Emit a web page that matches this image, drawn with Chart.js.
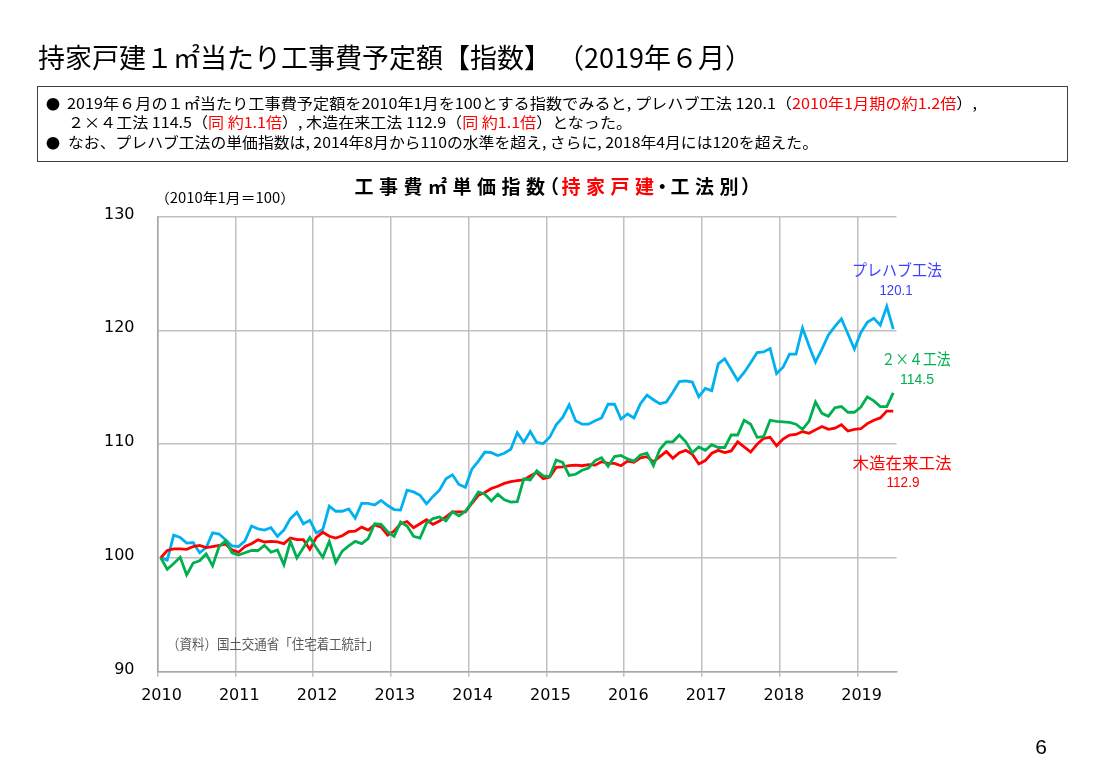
<!DOCTYPE html>
<html lang="ja">
<head>
<meta charset="utf-8">
<title>工事費㎡単価指数</title>
<script src="https://cdn.jsdelivr.net/npm/chart.js@4.4.1/dist/chart.umd.min.js"></script>
<style>
  body { margin: 0; background: #fff; }
  #page { position: relative; width: 1103px; height: 783px; overflow: hidden; font-family: "Noto Sans CJK JP", sans-serif; color: #000; }
  #chart { position: absolute; left: 0; top: 0; }
  .fit { position: absolute; white-space: nowrap; transform-origin: 0 50%; }
  #mainTitle { left: 38px; top: 39px; font-size: 27px; line-height: 36px; }
  #box { position: absolute; left: 37px; top: 86px; width: 1029px; height: 74px; border: 1px solid #404040; }
  .line { font-size: 15px; line-height: 20px; }
  .bullet { position: absolute; left: 8px; font-size: 14px; line-height: 20px; }
  .red { color: #ff0000; }
</style>
</head>
<body>
<div id="page">
  <canvas id="chart" width="1103" height="783"></canvas>
  <div id="mainTitle" class="fit" data-w="714">持家戸建１㎡当たり工事費予定額【指数】 （2019年６月）</div>
  <div id="box">
    <div class="bullet" style="top:6px">●</div>
    <div class="fit line" style="left:29px; top:6px" data-w="910">2019年６月の１㎡当たり工事費予定額を2010年1月を100とする指数でみると, プレハブ工法 120.1（<span class="red">2010年1月期の約1.2倍</span>）,</div>
    <div class="fit line" style="left:30px; top:25px" data-w="564">２×４工法 114.5（<span class="red">同 約1.1倍</span>）, 木造在来工法 112.9（<span class="red">同 約1.1倍</span>）となった。</div>
    <div class="bullet" style="top:45px">●</div>
    <div class="fit line" style="left:30px; top:45px" data-w="750">なお、プレハブ工法の単価指数は, 2014年8月から110の水準を超え, さらに, 2018年4月には120を超えた。</div>
  </div>
</div>
<script>
// monthly index, 2010/01 = 100 (Jan 2010 .. Jun 2019)
const prefab = [
  100.0, 99.8, 102.0, 101.8, 101.3, 101.35, 100.45, 100.9, 102.2, 102.1, 101.6, 101.05,
  101.0, 101.5, 102.8, 102.55, 102.45, 102.65, 101.9, 102.45, 103.45, 104.0, 103.0, 103.3,
  102.2, 102.5, 104.55, 104.1, 104.1, 104.3, 103.5, 104.8, 104.8, 104.65, 105.05, 104.6,
  104.25, 104.2, 105.95, 105.8, 105.5, 104.75, 105.4, 105.95, 106.95, 107.3, 106.45, 106.2,
  107.8, 108.5, 109.3, 109.25, 109.0, 109.2, 109.55, 111.0, 110.15, 111.1, 110.15, 110.05,
  110.6, 111.7, 112.35, 113.45, 112.05, 111.75, 111.75, 112.05, 112.3, 113.5, 113.5, 112.2,
  112.65, 112.3, 113.55, 114.3, 113.9, 113.55, 113.7, 114.55, 115.5, 115.55, 115.45, 114.15,
  114.9, 114.7, 117.05, 117.5, 116.55, 115.6, 116.3, 117.15, 118.05, 118.1, 118.4, 116.2,
  116.75, 117.9, 117.9, 120.2, 118.65, 117.2, 118.35, 119.6, 120.35, 121.0, 119.7, 118.35,
  119.8, 120.7, 121.05, 120.45, 122.1, 120.1
];
const twoByFour = [
  100.0, 99.0, 99.5, 100.05, 98.5, 99.55, 99.75, 100.35, 99.3, 101.0, 101.5, 100.45,
  100.25, 100.45, 100.65, 100.65, 101.1, 100.5, 100.7, 99.4, 101.45, 100.0, 100.9, 101.8,
  100.9, 100.05, 101.45, 99.6, 100.6, 101.05, 101.45, 101.25, 101.7, 103.0, 102.95, 102.3,
  101.9, 103.15, 102.8, 101.9, 101.75, 103.05, 103.45, 103.6, 103.25, 104.05, 103.7, 104.1,
  104.9, 105.8, 105.6, 105.0, 105.6, 105.1, 104.9, 104.95, 106.95, 106.85, 107.65, 107.2,
  107.15, 108.6, 108.4, 107.25, 107.35, 107.7, 107.9, 108.55, 108.8, 108.05, 108.9, 109.0,
  108.7, 108.5, 109.05, 109.2, 108.1, 109.55, 110.2, 110.2, 110.8, 110.2, 109.25, 109.75,
  109.45, 109.95, 109.7, 109.7, 110.8, 110.8, 112.1, 111.75, 110.6, 110.65, 112.1, 112.0,
  111.95, 111.9, 111.75, 111.3, 112.0, 113.7, 112.7, 112.45, 113.2, 113.3, 112.8, 112.8,
  113.25, 114.15, 113.8, 113.3, 113.3, 114.5
];
const wooden = [
  100.0, 100.65, 100.8, 100.8, 100.75, 101.0, 101.1, 100.9, 101.0, 101.1, 101.2, 100.7,
  100.5, 101.0, 101.25, 101.6, 101.4, 101.45, 101.4, 101.25, 101.75, 101.6, 101.6, 100.75,
  101.8, 102.25, 101.9, 101.75, 101.95, 102.3, 102.35, 102.7, 102.45, 102.9, 102.7, 102.0,
  102.35, 103.0, 103.2, 102.65, 103.0, 103.35, 102.95, 103.25, 103.6, 104.05, 104.05, 104.05,
  104.8, 105.5, 105.75, 106.1, 106.3, 106.55, 106.7, 106.8, 106.85, 107.2, 107.5, 106.95,
  107.1, 107.95, 108.0, 108.1, 108.15, 108.1, 108.2, 108.15, 108.45, 108.3, 108.3, 108.1,
  108.5, 108.4, 108.8, 108.9, 108.45, 108.9, 109.35, 108.75, 109.25, 109.45, 109.1, 108.25,
  108.55, 109.2, 109.45, 109.25, 109.4, 110.2, 109.75, 109.3, 110.0, 110.5, 110.6, 109.85,
  110.45, 110.8, 110.85, 111.1, 110.95, 111.25, 111.55, 111.3, 111.4, 111.7, 111.15, 111.3,
  111.35, 111.8, 112.1, 112.3, 112.9, 112.9
];
const yearTicks = ['2010', '2011', '2012', '2013', '2014', '2015', '2016', '2017', '2018', '2019'];
const yTicks = [90, 100, 110, 120, 130];
const monthCount = 114;

const titleParts = [['工事費㎡単価指数', '#000'], ['（', '#000'], ['持家戸建', '#ff0000'], ['・工法別）', '#000']];

// points sit in the middle of each month slot
const toPoints = arr => arr.map((v, i) => ({ x: i + 0.5, y: v }));

function fitText(ctx, text, x, y, w, font, color, align) {
  ctx.save();
  ctx.font = font;
  ctx.fillStyle = color;
  ctx.textBaseline = 'middle';
  ctx.textAlign = align || 'center';
  const k = w ? w / ctx.measureText(text).width : 1;
  ctx.translate(x, y);
  ctx.scale(k, 1);
  ctx.fillText(text, 0, 0);
  ctx.restore();
}

function drawTitle(ctx) {
  const fs = 19, step = 24.5, narrow = 11;
  const chars = [];
  titleParts.forEach(([t, c]) => { for (const ch of t) chars.push([ch, c]); });
  const adv = ch => '（）・'.includes(ch) ? narrow : step;
  const total = chars.reduce((s, [ch]) => s + adv(ch), 0);
  let x = 552 - total / 2;
  ctx.save();
  ctx.font = `bold ${fs}px "Noto Sans CJK JP"`;
  ctx.textAlign = 'center';
  ctx.textBaseline = 'middle';
  chars.forEach(([ch, c]) => {
    const shift = ch === '（' ? -0.2 * fs : ch === '）' ? 0.2 * fs : 0;
    ctx.fillStyle = c;
    ctx.fillText(ch, x + adv(ch) / 2 + shift, 187);
    x += adv(ch);
  });
  ctx.restore();
}

const notesPlugin = {
  id: 'notes',
  afterDraw(chart) {
    const ctx = chart.ctx;
    const jp = '"Noto Sans CJK JP"';
    drawTitle(ctx);
    fitText(ctx, '（2010年1月＝100）', 155, 198, 140, `14px ${jp}`, '#000', 'left');
    fitText(ctx, '（資料）国土交通省「住宅着工統計」', 167, 644, 212, `14px ${jp}`, '#595959', 'left');
    fitText(ctx, 'プレハブ工法', 897, 270, 90, `16px ${jp}`, '#3f3fff');
    fitText(ctx, '120.1', 896, 291, 33, '14px "Liberation Sans"', '#3f3fff');
    fitText(ctx, '２×４工法', 916, 359, 69, `16px ${jp}`, '#00b050');
    fitText(ctx, '114.5', 917, 380, 34, '14px "Liberation Sans"', '#00b050');
    fitText(ctx, '木造在来工法', 902, 463, 99, `16px ${jp}`, '#ff0000');
    fitText(ctx, '112.9', 903, 483, 33, '14px "Liberation Sans"', '#ff0000');
    fitText(ctx, '6', 1041, 748, 0, '21px "Liberation Sans"', '#000');
  }
};

const tickFont = { family: 'DejaVu Sans', size: 16 };

new Chart(document.getElementById('chart').getContext('2d'), {
  type: 'line',
  data: {
    datasets: [
      { label: '２×４工法', data: toPoints(twoByFour), borderColor: '#00b050' },
      { label: '木造在来工法', data: toPoints(wooden), borderColor: '#ff0000' },
      { label: 'プレハブ工法', data: toPoints(prefab), borderColor: '#00b0f0' }
    ]
  },
  options: {
    responsive: false,
    animation: false,
    layout: { padding: { top: 216.5, right: 206.5, left: 0, bottom: 0 } },
    elements: {
      line: { borderWidth: 2.8, tension: 0, fill: false },
      point: { radius: 0 }
    },
    plugins: { legend: { display: false }, tooltip: { enabled: false } },
    scales: {
      x: {
        type: 'linear',
        min: 0,
        max: monthCount,
        afterFit: s => { s.height = 111.3; },
        afterBuildTicks: s => { s.ticks = yearTicks.map((_, i) => ({ value: i * 12 })); },
        grid: { color: '#c0c0c0', lineWidth: 1.5, tickLength: 5 },
        border: { color: '#a6a6a6', width: 1.5 },
        ticks: {
          autoSkip: false, maxRotation: 0, padding: 10, labelOffset: 4,
          color: '#000', font: tickFont,
          callback: (v, i) => yearTicks[i]
        }
      },
      y: {
        min: yTicks[0],
        max: yTicks[yTicks.length - 1],
        afterFit: s => { s.width = 157.5; },
        afterBuildTicks: s => { s.ticks = yTicks.map(v => ({ value: v })); },
        grid: { color: '#c0c0c0', lineWidth: 1.5, drawTicks: false },
        border: { color: '#a6a6a6', width: 1.5 },
        ticks: { padding: 23, labelOffset: -2, color: '#000', font: tickFont }
      }
    }
  },
  plugins: [notesPlugin]
});

// squeeze header lines to the widths of the original slide
document.querySelectorAll('.fit').forEach(el => {
  const w = +el.dataset.w;
  el.style.transform = `scaleX(${w / el.getBoundingClientRect().width})`;
});
</script>
</body>
</html>
